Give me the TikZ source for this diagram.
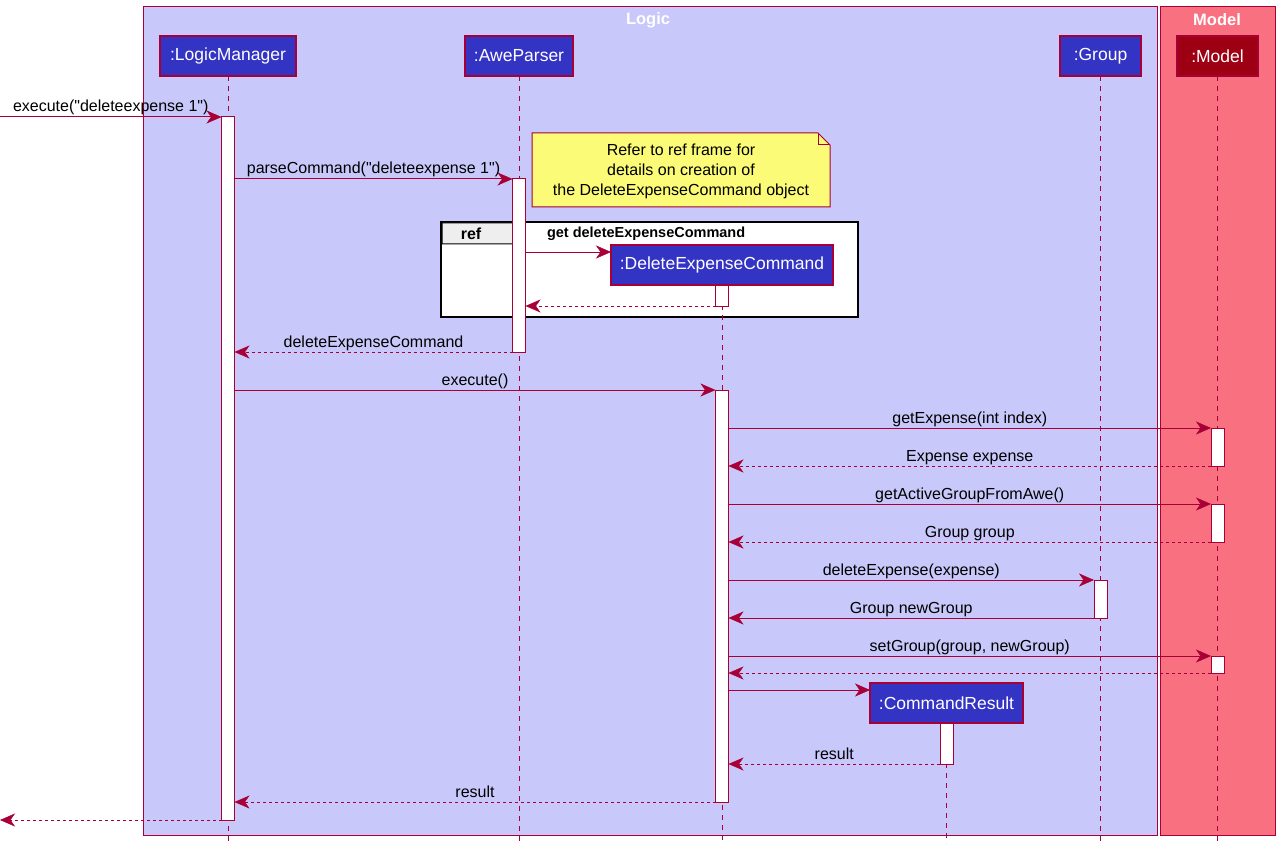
\documentclass[tikz,border=0pt]{standalone}
\usepackage{fontspec}
\setmainfont{Liberation Sans}
\usetikzlibrary{arrows.meta}
\definecolor{bord}{HTML}{A80036}
\definecolor{logicbg}{HTML}{C8C8FA}
\definecolor{modelbg}{HTML}{F97181}
\definecolor{logicc}{HTML}{3333C4}
\definecolor{modelc}{HTML}{9D0012}
\definecolor{notec}{HTML}{FBFB77}
\definecolor{tabc}{HTML}{EEEEEE}
\begin{document}
\begin{tikzpicture}[x=1pt,y=-1pt,
  every node/.style={font=\fontsize{16}{19}\selectfont, inner sep=0pt, outer sep=0pt},
  grp/.style={draw=bord, line width=1pt},
  gtitle/.style={text=white, font=\bfseries\fontsize{16.5}{19}\selectfont},
  part/.style={draw=bord, line width=1.5pt, fill=logicc, text=white, minimum height=40pt, anchor=north west, font=\fontsize{17.5}{20}\selectfont},
  life/.style={draw=bord, line width=1pt, dash pattern=on 5pt off 5pt},
  act/.style={draw=bord, fill=white, line width=1pt, minimum width=13pt, anchor=north},
  msg/.style={draw=bord, line width=1pt, -{Stealth[length=15pt,width=13pt,inset=4.5pt,line width=0.5pt]}},
  ret/.style={msg, dash pattern=on 3pt off 3pt},
  lbl/.style={anchor=base, yshift=5pt, text=black},
]
\useasboundingbox (0,0) rectangle (1281,850);
% group boxes
\draw[grp, fill=logicbg] (143,7) rectangle (1157,835);
\draw[grp, fill=modelbg] (1160,7) rectangle (1275,835);
\node[gtitle] (logictitle) at (648,20) {Logic};
\node[gtitle] (modeltitle) at (1217,20) {Model};
% note
\draw[draw=bord, fill=notec, line width=1pt] (532,133) -- (818,133) -- (830,145) -- (830,207) -- (532,207) -- cycle;
\draw[draw=bord, line width=1pt] (818,133) -- (818,145) -- (830,145);
\node[align=center, font=\fontsize{16}{20}\selectfont] (notetext) at (681,171) {Refer to ref frame for\\details on creation of\\the DeleteExpenseCommand object};
% ref frame
\draw[black, fill=white, line width=2.5pt] (441,222) rectangle (858,317);
\draw[black, fill=tabc, line width=1pt] (442,223) -- (523,223) -- (523,234) -- (513,244) -- (442,244) -- cycle;
\node[font=\bfseries\fontsize{16}{19}\selectfont] (reftag) at (471,234) {ref};
\node[anchor=west, font=\bfseries\fontsize{14.5}{17}\selectfont] (reftitle) at (547,234) {get deleteExpenseCommand};
% participants
\node[part, minimum width=136pt] (lm) at (160,36) {:LogicManager};
\node[part, minimum width=108pt] (ap) at (465,36) {:AweParser};
\node[part, minimum width=81pt] (grpP) at (1060,36) {:Group};
\node[part, minimum width=81pt, fill=modelc] (model) at (1177,36) {:Model};
\node[part, minimum width=222pt] (dec) at (611,245) {:DeleteExpenseCommand};
\node[part, minimum width=153pt] (cr) at (870,683) {:CommandResult};
% lifelines
\draw[life] (lm.south) -- (lm.south |- 0,843);
\draw[life] (ap.south) -- (ap.south |- 0,843);
\draw[life] (grpP.south) -- (grpP.south |- 0,843);
\draw[life] (model.south) -- (model.south |- 0,843);
\draw[life] (dec.south) -- (dec.south |- 0,843);
\draw[life] (cr.south) -- (cr.south |- 0,843);
% activations
\node[act, minimum height=703pt] (lmA) at (lm.south |- 0,117) {};
\node[act, minimum height=173pt] (apA) at (ap.south |- 0,179) {};
\node[act, minimum height=21pt] (decA1) at (dec.south |- 0,285) {};
\node[act, minimum height=412pt] (decA2) at (dec.south |- 0,390) {};
\node[act, minimum height=38pt] (mA1) at (model.south |- 0,428) {};
\node[act, minimum height=38pt] (mA2) at (model.south |- 0,504) {};
\node[act, minimum height=17pt] (mA3) at (model.south |- 0,656) {};
\node[act, minimum height=38pt] (gA) at (grpP.south |- 0,580) {};
\node[act, minimum height=41pt] (crA) at (cr.south |- 0,723) {};
% free ends
\coordinate (lin) at (0,117);
\coordinate (lout) at (0,820);
% messages
\draw[msg] (lin) -- node[lbl]{execute(\textquotedbl deleteexpense 1\textquotedbl)} (lmA.north west);
\draw[msg] (lmA.east |- apA.north) -- node[lbl]{parseCommand(\textquotedbl deleteexpense 1\textquotedbl)} (apA.north west);
\draw[msg] (apA.east |- 0,252) -- (dec.west |- 0,252);
\draw[ret] (decA1.south west) -- (apA.east |- decA1.south);
\draw[ret] (apA.south west) -- node[lbl]{deleteExpenseCommand} (lmA.east |- apA.south);
\draw[msg] (lmA.east |- decA2.north) -- node[lbl]{execute()} (decA2.north west);
\draw[msg] (decA2.east |- mA1.north) -- node[lbl]{getExpense(int index)} (mA1.north west);
\draw[ret] (mA1.south west) -- node[lbl]{Expense expense} (decA2.east |- mA1.south);
\draw[msg] (decA2.east |- mA2.north) -- node[lbl]{getActiveGroupFromAwe()} (mA2.north west);
\draw[ret] (mA2.south west) -- node[lbl]{Group group} (decA2.east |- mA2.south);
\draw[msg] (decA2.east |- gA.north) -- node[lbl]{deleteExpense(expense)} (gA.north west);
\draw[msg] (gA.south west) -- node[lbl]{Group newGroup} (decA2.east |- gA.south);
\draw[msg] (decA2.east |- mA3.north) -- node[lbl]{setGroup(group, newGroup)} (mA3.north west);
\draw[ret] (mA3.south west) -- (decA2.east |- mA3.south);
\draw[msg] (decA2.east |- 0,690) -- (cr.west |- 0,690);
\draw[ret] (crA.south west) -- node[lbl]{result} (decA2.east |- crA.south);
\draw[ret] (decA2.south west) -- node[lbl]{result} (lmA.east |- decA2.south);
\draw[ret] (lmA.south west) -- (lout);
\end{tikzpicture}
\end{document}
